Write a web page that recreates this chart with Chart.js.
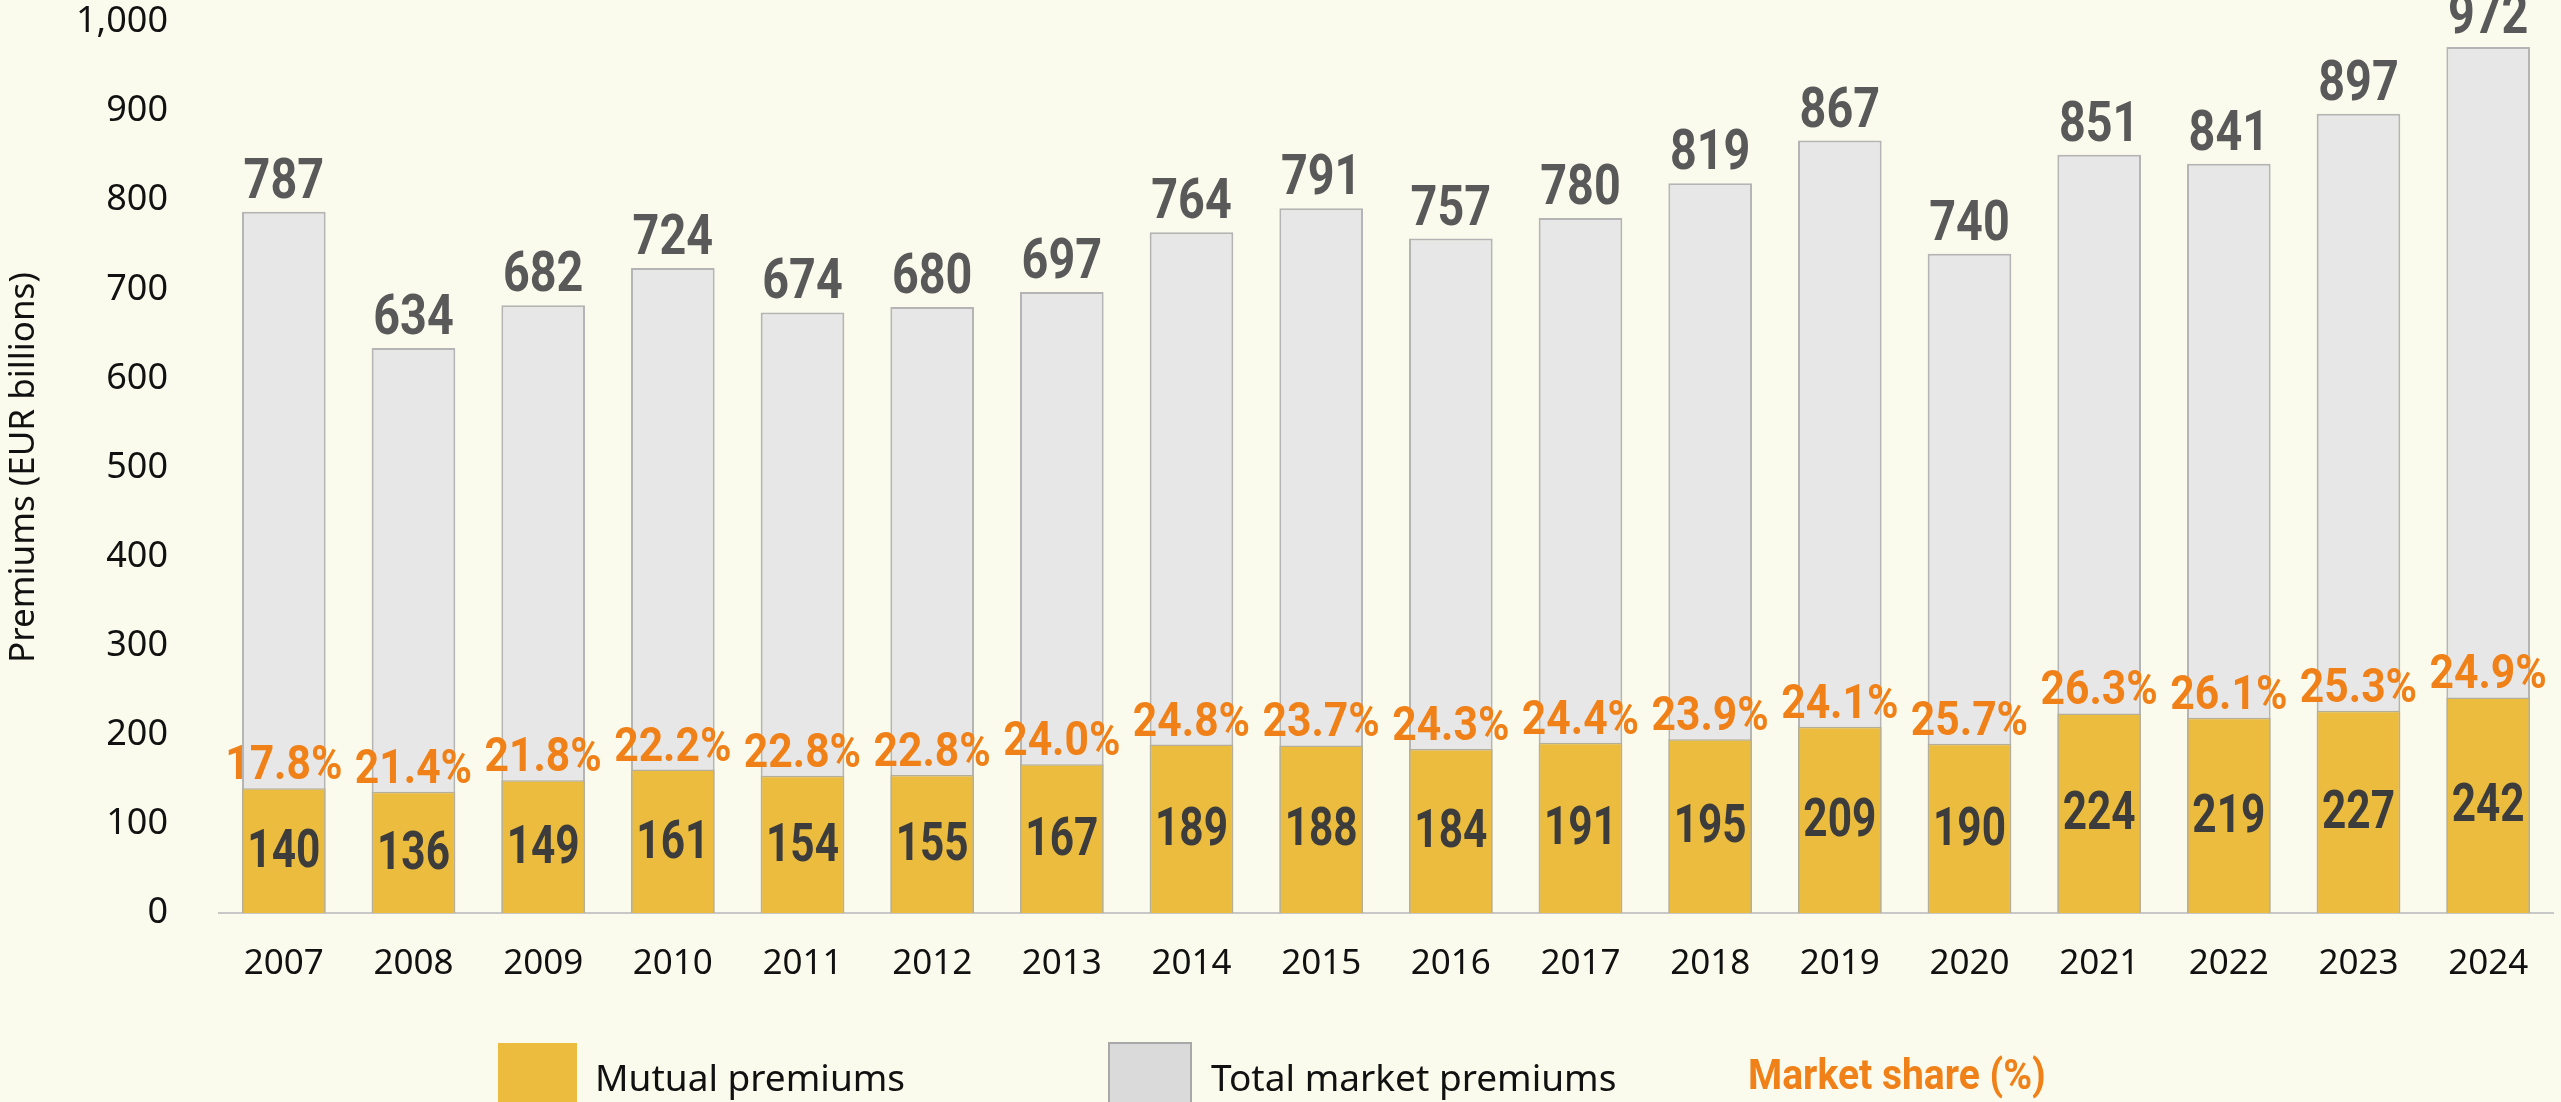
<!DOCTYPE html>
<html>
<head>
<meta charset="utf-8">
<script src="https://cdn.jsdelivr.net/npm/chart.js@4"></script>
<style>
  html, body { margin: 0; padding: 0; background: #FAFBEC; }
  #wrap { position: relative; width: 2561px; height: 1102px; overflow: hidden; background: #FAFBEC; }
  #chartBox { position: absolute; left: 0; top: 0; width: 2561px; height: 1102px; }
  .box { position: absolute; box-sizing: border-box; }
  .lt { position: absolute; font-family: "Noto Sans", sans-serif; font-size: 37px; line-height: 50px; color: #111; white-space: nowrap; }
  .ms { font-family: Roboto, "Noto Sans", sans-serif; font-weight: 700; color: #F08119; transform: scaleX(0.93); transform-origin: left center; font-size: 42px; }
</style>
</head>
<body>
<div id="wrap">
  <div id="chartBox"><canvas id="c"></canvas></div>
  <div class="box" style="left:498px; top:1043px; width:79px; height:62px; background:#EBBC3E;"></div>
  <div class="lt" style="left:595px; top:1052px;">Mutual premiums</div>
  <div class="box" style="left:1108px; top:1042px; width:84px; height:63px; background:#DADADA; border:2px solid #A8A8A8;"></div>
  <div class="lt" style="left:1211px; top:1052px;">Total market premiums</div>
  <div class="lt ms" style="left:1748px; top:1050px;">Market share (%)</div>
</div>
<script>
const years = ['2007','2008','2009','2010','2011','2012','2013','2014','2015','2016','2017','2018','2019','2020','2021','2022','2023','2024'];
const totalPremiums = [787,634,682,724,674,680,697,764,791,757,780,819,867,740,851,841,897,972];
const mutualPremiums = [140,136,149,161,154,155,167,189,188,184,191,195,209,190,224,219,227,242];
const marketShare = ['17.8','21.4','21.8','22.2','22.8','22.8','24.0','24.8','23.7','24.3','24.4','23.9','24.1','25.7','26.3','26.1','25.3','24.9'];
const yMin = 0, yMax = 1000, yStep = 100;

function drawCondensed(ctx, text, x, y, sx) {
  ctx.save();
  ctx.translate(x, y);
  ctx.scale(sx, 1);
  ctx.fillText(text, 0, 0);
  ctx.restore();
}

const labelPlugin = {
  id: 'barLabels',
  afterDatasetsDraw(chart) {
    const ctx = chart.ctx;
    const mMeta = chart.getDatasetMeta(0);
    const tMeta = chart.getDatasetMeta(1);
    ctx.save();
    ctx.textAlign = 'center';
    ctx.font = 'bold 55px Roboto, sans-serif';
    ctx.fillStyle = '#595959';
    ctx.textBaseline = 'alphabetic';
    tMeta.data.forEach((bar, i) => {
      drawCondensed(ctx, String(totalPremiums[i]), bar.x, bar.y - 14, 0.85);
    });
    ctx.font = 'bold 49px Roboto, sans-serif';
    ctx.fillStyle = '#F08119';
    mMeta.data.forEach((bar, i) => {
      drawCondensed(ctx, marketShare[i] + '%', bar.x, bar.y - 9, 0.87);
    });
    ctx.font = 'bold 53px Roboto, sans-serif';
    ctx.fillStyle = '#3C3C3C';
    ctx.textBaseline = 'middle';
    mMeta.data.forEach((bar, i) => {
      drawCondensed(ctx, String(mutualPremiums[i]), bar.x, (bar.y + bar.base) / 2 + 3, 0.8);
    });
    ctx.restore();
  }
};

new Chart(document.getElementById('c'), {
  type: 'bar',
  data: {
    labels: years,
    datasets: [
      {
        label: 'Mutual premiums',
        data: mutualPremiums,
        backgroundColor: '#EBBC3E',
        borderColor: '#B5AE98',
        borderWidth: 1.5,
        grouped: false,
        barPercentage: 1,
        categoryPercentage: 0.645
      },
      {
        label: 'Total market premiums',
        data: totalPremiums,
        backgroundColor: '#E7E7E7',
        borderColor: '#B4B4B4',
        borderWidth: 2,
        grouped: false,
        barPercentage: 1,
        categoryPercentage: 0.645
      }
    ]
  },
  options: {
    responsive: true,
    maintainAspectRatio: false,
    animation: false,
    layout: { padding: { top: 22, right: 8, bottom: 0, left: 0 } },
    plugins: { legend: { display: false }, tooltip: { enabled: false }, title: { display: false } },
    scales: {
      x: {
        grid: { display: false, drawTicks: false },
        border: { display: true, color: '#C8C8C8', width: 2 },
        ticks: { color: '#111', font: { family: 'Noto Sans', size: 35 }, padding: 30, maxRotation: 0, autoSkip: false },
        afterFit(scale) { scale.height = 189; scale.paddingLeft = 0; scale.paddingRight = 0; }
      },
      y: {
        min: yMin, max: yMax,
        grid: { display: false, drawTicks: false },
        border: { display: false },
        ticks: {
          stepSize: yStep,
          color: '#111',
          font: { family: 'Noto Sans', size: 36 },
          padding: 51,
          callback: (v) => v.toLocaleString('en-US')
        },
        title: {
          display: true,
          text: 'Premiums (EUR billions)',
          color: '#111',
          font: { family: 'Noto Sans', size: 35 },
          padding: { top: 3, bottom: 0 }
        },
        afterFit(scale) { scale.width = 219; scale.paddingTop = 0; scale.paddingBottom = 0; }
      }
    }
  },
  plugins: [labelPlugin]
});
</script>
</body>
</html>
